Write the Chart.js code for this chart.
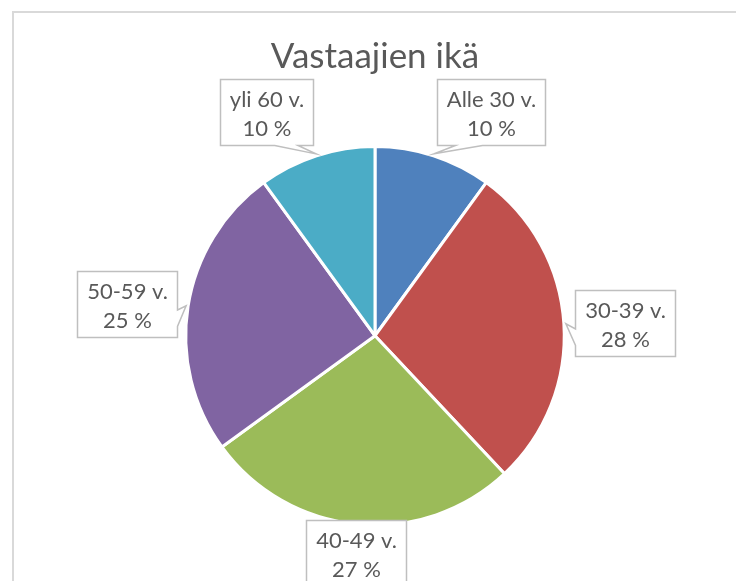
<!DOCTYPE html>
<html>
<head>
<meta charset="utf-8">
<script src="https://cdn.jsdelivr.net/npm/chart.js@4/dist/chart.umd.min.js"></script>
<style>
    html, body { margin: 0; padding: 0; background: #fff; }
</style>
</head>
<body>
<canvas id="pie_chart" width="736" height="581"></canvas>
<script>
const otsikko = 'Vastaajien ikä';
const ikaryhmat = ['Alle 30 v.', '30-39 v.', '40-49 v.', '50-59 v.', 'yli 60 v.'];
const osuudet = [10, 28, 27, 25, 10];
const varit = ['#4F81BD', '#C0504D', '#9BBB59', '#8064A2', '#4BACC6'];

const tekstiVari = '#595959';

// light grey frame of the chart area (right/bottom edges are cut off)
const kehys = {
    id: 'kehys',
    beforeDraw(chart) {
        const ctx = chart.ctx;
        ctx.save();
        ctx.strokeStyle = '#D9D9D9';
        ctx.lineWidth = 2;
        ctx.strokeRect(13, 12, 800, 700);
        ctx.restore();
    }
};

// Excel style wedgeRectCallout
function puhekupla(ctx, l, t, w, h, xPos, yPos) {
    const r = l + w, b = t + h, hc = l + w / 2, vc = t + h / 2;
    const dxPos = xPos - hc, dyPos = yPos - vc;
    const sisalla = xPos > l && xPos < r && yPos > t && yPos < b;
    const dz = Math.abs(dyPos) - Math.abs(dxPos * h / w);
    const xg1 = l + (dxPos > 0 ? 7 : 2) * w / 12, xg2 = l + (dxPos > 0 ? 10 : 5) * w / 12;
    const yg1 = t + (dyPos > 0 ? 7 : 2) * h / 12, yg2 = t + (dyPos > 0 ? 10 : 5) * h / 12;
    ctx.beginPath();
    ctx.moveTo(l, t);
    if (!sisalla && dz > 0 && dyPos < 0) { ctx.lineTo(xg1, t); ctx.lineTo(xPos, yPos); ctx.lineTo(xg2, t); }
    ctx.lineTo(r, t);
    if (!sisalla && dz <= 0 && dxPos > 0) { ctx.lineTo(r, yg1); ctx.lineTo(xPos, yPos); ctx.lineTo(r, yg2); }
    ctx.lineTo(r, b);
    if (!sisalla && dz > 0 && dyPos > 0) { ctx.lineTo(xg2, b); ctx.lineTo(xPos, yPos); ctx.lineTo(xg1, b); }
    ctx.lineTo(l, b);
    if (!sisalla && dz <= 0 && dxPos < 0) { ctx.lineTo(l, yg2); ctx.lineTo(xPos, yPos); ctx.lineTo(l, yg1); }
    ctx.closePath();
    ctx.fillStyle = '#fff';
    ctx.fill();
    ctx.strokeStyle = '#BFBFBF';
    ctx.lineWidth = 1.5;
    ctx.stroke();
}

const selitteet = {
    id: 'selitteet',
    afterDatasetsDraw(chart) {
        const ctx = chart.ctx;
        const meta = chart.getDatasetMeta(0);
        const arvot = chart.data.datasets[0].data;
        const summa = arvot.reduce((a, b) => a + b, 0);
        const rivi = 29, padX = 9.5, h = 66, vali = 11;
        ctx.save();
        ctx.font = '22px Lato';
        meta.data.forEach((arc, i) => {
            const p = arc.getProps(['x', 'y', 'startAngle', 'endAngle', 'outerRadius'], true);
            const mid = (p.startAngle + p.endAngle) / 2;
            const dx = Math.cos(mid), dy = Math.sin(mid);
            const rivit = [chart.data.labels[i], Math.round(arvot[i] / summa * 100) + ' %'];
            const w = Math.round(Math.max(...rivit.map(t => ctx.measureText(t).width)) + 2 * padX);
            const px = p.x + dx * (p.outerRadius + vali);
            const py = p.y + dy * (p.outerRadius + vali);
            const fx = Math.abs(dx) < 0.2 ? 0 : Math.sign(dx);
            const fy = Math.abs(dy) < 0.2 ? 0 : Math.sign(dy);
            let cx = px + fx * w / 2, cy = py + fy * h / 2;
            cy = Math.min(cy, chart.height + 5 - h / 2);
            const l = Math.round(cx - w / 2) + 0.5, t = Math.round(cy - h / 2) + 0.5;
            puhekupla(ctx, l, t, w, h, p.x + dx * (p.outerRadius + 2), p.y + dy * (p.outerRadius + 2));
            ctx.fillStyle = tekstiVari;
            ctx.textAlign = 'center';
            ctx.textBaseline = 'alphabetic';
            rivit.forEach((teksti, j) => {
                ctx.fillText(teksti, l + w / 2, t + 27 + rivi * j);
            });
        });
        ctx.restore();
    }
};

const chart_data = {
    labels: ikaryhmat,
    datasets: [{
        data: osuudet,
        backgroundColor: varit,
        borderColor: '#fff',
        borderWidth: 3
    }]
};

const options = {
    responsive: false,
    maintainAspectRatio: false,
    animation: false,
    layout: { padding: { left: 183.5, right: 169.5, top: 18.5, bottom: 54.5 } },
    plugins: {
        legend: { display: false },
        tooltip: { enabled: false },
        title: {
            display: true,
            text: otsikko,
            color: tekstiVari,
            font: { family: 'Lato', size: 35, weight: 'normal', lineHeight: 1.2 },
            padding: { top: 17.5, bottom: 67 }
        }
    }
};

new Chart(document.getElementById('pie_chart'), {
    type: 'pie',
    data: chart_data,
    options: options,
    plugins: [kehys, selitteet]
});
</script>
</body>
</html>
